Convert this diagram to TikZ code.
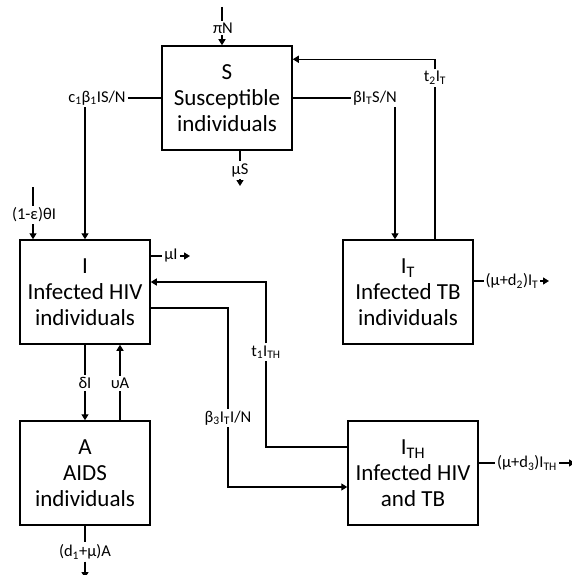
\documentclass[tikz,border=0pt]{standalone}
\usepackage{fontspec}
\setmainfont{Carlito}
\usetikzlibrary{positioning,arrows.meta,calc}

\begin{document}
\begin{tikzpicture}[x=1pt,y=-1pt,>={Triangle[length=6pt,width=7pt]},line width=1.3pt]
\tikzset{box/.style={draw,line width=1.5pt,minimum width=130pt,minimum height=104pt,align=center,inner sep=0pt,font=\fontsize{23}{26}\selectfont},
  lbl/.style={inner sep=1.5pt,font=\fontsize{16.5}{18}\selectfont}}
\useasboundingbox (0,0) rectangle (571,575);
% compartments
\node[box] (S) at (227,98) {S\\Susceptible\\individuals};
\node[box] (I) at (85,292) {I\\Infected HIV\\individuals};
\node[box] (IT) at (408,292) {I\textsubscript{T}\\Infected TB\\individuals};
\node[box] (A) at (85,473) {A\\AIDS\\individuals};
\node[box] (ITH) at (413,473) {I\textsubscript{TH}\\Infected HIV\\and TB};
% rates
\node[lbl] (piN) at (223,28) {πN};
\node[lbl] (muS) at (240,170) {μS};
\node[lbl] (cSI) at (97,98) {c\textsubscript{1}β\textsubscript{1}IS/N};
\node[lbl] (bTS) at (375,98) {βI\textsubscript{T}S/N};
\node[lbl] (t2) at (435,78) {t\textsubscript{2}I\textsubscript{T}};
\node[lbl] (eps) at (34,215) {(1-ε)θI};
\node[lbl] (muI) at (171,256) {μI};
\node[lbl] (muT) at (512,281) {(μ+d\textsubscript{2})I\textsubscript{T}};
\node[lbl] (t1) at (266,352) {t\textsubscript{1}I\textsubscript{TH}};
\node[lbl] (b3) at (228,418) {β\textsubscript{3}I\textsubscript{T}I/N};
\node[lbl] (muTH) at (527,463) {(μ+d\textsubscript{3})I\textsubscript{TH}};
\node[lbl] (dI) at (85,383) {δI};
\node[lbl] (uA) at (120,383) {υA};
\node[lbl] (dA) at (85,552) {(d\textsubscript{1}+μ)A};
\coordinate (piN0) at (222,7);
\coordinate (muS0) at (240,186);
\coordinate (eps0) at (33,187);
\coordinate (muI0) at (190,256);
\coordinate (muT0) at (549,281);
\coordinate (muTH0) at (575,463);
\coordinate (dA0) at (85,578);
% flows
\draw (piN0) -- (piN0 |- piN.north);
\draw[->] (piN0 |- piN.south) -- (piN0 |- S.north);
\draw (muS |- S.south) -- (muS);
\draw[->] (muS) -- (muS0);
\draw (cSI) -- (S);
\draw[->] (cSI.south -| I.north) -- (I.north);
\draw (S) -- (bTS);
\draw[->] ([xshift=20pt]bTS.south) -- ([xshift=20pt]bTS.south |- IT.north);
\draw (t2 |- IT.north) -- (t2);
\draw[->] (t2.north) |- ([yshift=-14pt]S.north east);
\draw (eps0) -- (eps0 |- eps.north);
\draw[->] (eps0 |- eps.south) -- (eps0 |- I.north);
\draw (I.east |- muI) -- (muI);
\draw[->] (muI) -- (muI0);
\draw (IT.east |- muT) -- (muT);
\draw[->] (muT) -- (muT0);
\draw ([yshift=26pt]ITH.west) -| (t1.south);
\draw[->] (t1.north) |- ([yshift=10pt]I.east);
\draw ([yshift=-16pt]I.east) -| (b3.north);
\draw[->] (b3.south) |- ([yshift=-14pt]ITH.west);
\draw (ITH.east |- muTH) -- (muTH);
\draw[->] (muTH) -- (muTH0);
\draw (I.south) -- (dI);
\draw[->] (dI) -- (A.north);
\draw (uA |- A.north) -- (uA);
\draw[->] (uA) -- (uA |- I.south);
\draw (A.south) -- (dA);
\draw[->] (dA) -- (dA0);
\end{tikzpicture}
\end{document}
